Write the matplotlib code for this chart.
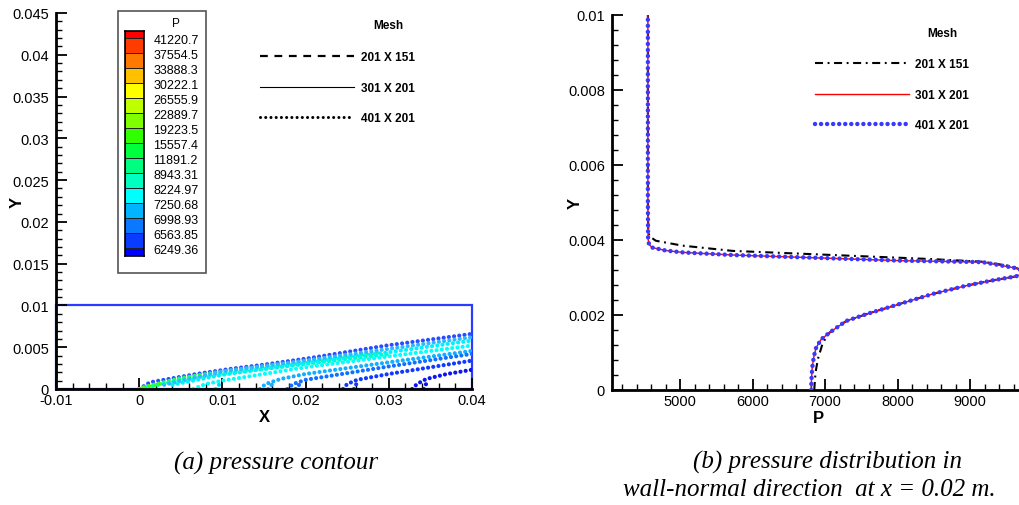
import matplotlib
matplotlib.use("Agg")
import matplotlib.pyplot as plt
from matplotlib.patches import Rectangle
from matplotlib.lines import Line2D
from matplotlib.ticker import MultipleLocator, FuncFormatter

plt.rcParams['font.family'] = ['Liberation Sans', 'DejaVu Sans']
plt.rcParams['axes.unicode_minus'] = False

# ---- (a) pressure contour data ----
domain_x = [-0.01, 0.04]
domain_y = [0.0, 0.01]

levels = [6249.36, 6563.85, 6998.93, 7250.68, 8224.97, 8943.31, 11891.2, 15557.4,
          19223.5, 22889.7, 26555.9, 30222.1, 33888.3, 37554.5, 41220.7]
level_colors = ['#0000ff', '#0a3cff', '#0a78ff', '#00b4ff', '#00ffff', '#00ffc0',
                '#00ff80', '#00ff3c', '#30ff00', '#80ff00', '#c0ff00', '#ffff00',
                '#ffc000', '#ff7800', '#ff3c00', '#ff0000']

# contour lines (x, y, colour)
contour_x = [
    [0.0, 0.0013, 0.0069, 0.0109, 0.0149, 0.0205, 0.0297, 0.04],
    [0.0005, 0.005, 0.01, 0.015, 0.02, 0.025, 0.029],
    [0.001, 0.005, 0.01, 0.015, 0.02, 0.025, 0.03],
    [0.003, 0.01, 0.02, 0.03, 0.04],
    [0.004, 0.01, 0.02, 0.03, 0.04],
    [0.0065, 0.008, 0.01, 0.02, 0.03, 0.04],
    [0.0145, 0.0152, 0.017, 0.02, 0.03, 0.04],
    [0.0178, 0.0185, 0.02, 0.025, 0.03, 0.04],
    [0.0245, 0.025, 0.0262, 0.03, 0.035, 0.04],
    [0.0328, 0.0334, 0.0345, 0.037, 0.04],
    [0.0092, 0.0095, 0.0099],
    [0.0155, 0.0158, 0.0163],
    [0.0188, 0.0191, 0.0196],
    [0.0258, 0.026, 0.0265],
    [0.0342, 0.0344, 0.0348],
    [0.0, 0.001, 0.0025],
]
contour_y = [
    [0.0, 0.0008, 0.0018, 0.0024, 0.0029, 0.0037, 0.0052, 0.0066],
    [0.0002, 0.0013, 0.0021, 0.0027, 0.0033, 0.0039, 0.0044],
    [0.0002, 0.0011, 0.0018, 0.0024, 0.0030, 0.0036, 0.0042],
    [0.0005, 0.0021, 0.0034, 0.0048, 0.0062],
    [0.0005, 0.0017, 0.0031, 0.0044, 0.0058],
    [0.0, 0.0006, 0.0010, 0.0026, 0.0039, 0.0052],
    [0.0, 0.0006, 0.0012, 0.0018, 0.0032, 0.00456],
    [0.0, 0.0006, 0.0011, 0.0019, 0.0027, 0.0042],
    [0.0, 0.0006, 0.0011, 0.0018, 0.0026, 0.0034],
    [0.0, 0.0006, 0.0012, 0.0018, 0.0023],
    [0.0, 0.0004, 0.0008],
    [0.0, 0.0004, 0.0008],
    [0.0, 0.0004, 0.0008],
    [0.0, 0.0005, 0.0009],
    [0.0, 0.0005, 0.0009],
    [0.0, 0.0003, 0.0006],
]
contour_c = ['#2a4cff', '#20ff50', '#00ffb0', '#30b8ff', '#00f0ff', '#00ffff',
             '#10b0ff', '#1070ff', '#1038ff', '#0a14f0',
             '#00e0ff', '#20a8ff', '#1070ff', '#1038ff', '#0a14f0', '#30ff20']

# ---- (b) wall-normal profiles at x = 0.02 ----
p_fine = [6807, 6812, 6822, 6845, 6876, 6945, 7060, 7290, 7580, 8021, 8480, 8941,
          9300, 9630, 9780, 9630, 9170, 8021, 6641, 5720, 5030, 4800, 4610, 4570,
          4558, 4555, 4555]
y_fine = [0, 0.0003, 0.0006, 0.0009, 0.00113, 0.00135, 0.00153, 0.00184, 0.00203,
          0.00229, 0.00256, 0.00278, 0.00292, 0.00303, 0.00314, 0.00325, 0.00341,
          0.00345, 0.00354, 0.0036, 0.00367, 0.00372, 0.0038, 0.00389, 0.00403,
          0.005, 0.01]
p_coarse = [6850, 6853, 6867, 6899, 6968, 7060, 7290, 7580, 8021, 8480, 8941, 9300,
            9630, 9780, 9540, 9170, 8480, 7100, 5720, 5030, 4665, 4575, 4560, 4555,
            4555]
y_coarse = [0, 0.0001, 0.00046, 0.00082, 0.00126, 0.00153, 0.00184, 0.00203, 0.00229,
            0.00256, 0.00278, 0.00292, 0.00303, 0.00316, 0.00331, 0.00342, 0.00349,
            0.0036, 0.00371, 0.00385, 0.00398, 0.0041, 0.0043, 0.005, 0.01]
mesh_labels = ['201 X 151', '301 X 201', '401 X 201']

W, H = 1020, 506
fig = plt.figure(figsize=(W / 100, H / 100), dpi=100)


def style_axes(ax):
    for s in ['top', 'right']:
        ax.spines[s].set_visible(False)
    for s in ['left', 'bottom']:
        ax.spines[s].set_linewidth(2)
    ax.tick_params(which='major', direction='in', length=8, width=1.3, labelsize=10.5, pad=5)
    ax.tick_params(which='minor', direction='in', length=4, width=1)
    ax.tick_params(axis='x', which='major', pad=3)
    fmt = FuncFormatter(lambda v, pos: '%g' % round(v, 6))
    ax.xaxis.set_major_formatter(fmt)
    ax.yaxis.set_major_formatter(fmt)


# ================= left panel =================
ax1 = fig.add_axes([56 / W, 1 - 390 / H, 416 / W, 376 / H])
ax1.set_xlim(-0.01, 0.04)
ax1.set_ylim(0, 0.045)
style_axes(ax1)
ax1.xaxis.set_major_locator(MultipleLocator(0.01))
ax1.xaxis.set_minor_locator(MultipleLocator(0.002))
ax1.yaxis.set_major_locator(MultipleLocator(0.005))
ax1.yaxis.set_minor_locator(MultipleLocator(0.001))

ax1.add_patch(Rectangle((domain_x[0], domain_y[0]), domain_x[1] - domain_x[0],
                        domain_y[1] - domain_y[0], fill=False, edgecolor='#2a3cff',
                        linewidth=1.6, clip_on=False, zorder=1))
for xs, ys, c in zip(contour_x, contour_y, contour_c):
    ax1.plot(xs, ys, color=c, linewidth=3.0, linestyle=(0, (0.01, 1.25)),
             dash_capstyle='round', zorder=2)

ax1.set_xlabel('X', fontsize=12, fontweight='bold', labelpad=1)
ax1.set_ylabel('Y', fontsize=12, fontweight='bold')
ax1.yaxis.set_label_coords(-31 / 416, 0.5)

h1 = [Line2D([], [], color='black', linewidth=1.6, linestyle=(0, (3.5, 3.0))),
      Line2D([], [], color='black', linewidth=0.8),
      Line2D([], [], color='black', linewidth=2.2, linestyle=(0, (0.01, 1.7)),
             dash_capstyle='round')]
fig.legend(h1, mesh_labels, loc='upper left', bbox_to_anchor=(260 / W, 1 - 52 / H),
           frameon=False, prop={'weight': 'bold', 'size': 8.5}, handlelength=8.0,
           handletextpad=0.55, labelspacing=1.58, borderpad=0, borderaxespad=0)
fig.text(388 / W, 1 - 26 / H, 'Mesh', fontsize=8.5, fontweight='bold', ha='center', va='center')

# colour legend box
fig.add_artist(Rectangle((118 / W, 1 - 274 / H), 88 / W, 262 / H, transform=fig.transFigure,
                         fill=False, edgecolor='#555555', linewidth=1.2))
fig.text(176 / W, 1 - 24 / H, 'P', fontsize=8.5, ha='center', va='center')
cax = fig.add_axes([125.3 / W, 1 - 256.8 / H, 19 / W, 225 / H])
cax.set_zorder(5)
cax.barh(range(len(level_colors)), 1, height=1, color=level_colors,
         edgecolor='#202020', linewidth=0.7)
cax.set_xlim(0, 1)
cax.set_ylim(0, len(levels))
cax.set_xticks([])
cax.yaxis.tick_right()
cax.set_yticks([i + 0.5 for i in range(len(levels))])
cax.set_yticklabels(['%g' % v for v in levels])
cax.tick_params(axis='y', length=0, pad=6.5, labelsize=9)
for s in cax.spines.values():
    s.set_linewidth(1.2)

fig.text(276 / W, 1 - 463 / H, '(a) pressure contour', fontsize=18, fontstyle='italic',
         family='Liberation Serif', ha='center', va='center')

# ================= right panel =================
ax2 = fig.add_axes([612 / W, 1 - 391 / H, (9750 - 4060) * 0.0725 / W, 375 / H])
ax2.set_xlim(4060, 9750)
ax2.set_ylim(0, 0.01)
style_axes(ax2)
ax2.xaxis.set_major_locator(MultipleLocator(1000))
ax2.xaxis.set_minor_locator(MultipleLocator(200))
ax2.yaxis.set_major_locator(MultipleLocator(0.002))
ax2.yaxis.set_minor_locator(MultipleLocator(0.0004))

l_c, = ax2.plot(p_coarse, y_coarse, color='black', linewidth=1.5,
                linestyle=(0, (3.85, 2.2, 0.9, 2.2)), zorder=2)
l_m, = ax2.plot(p_fine, y_fine, color='#ff0000', linewidth=1.0, zorder=3)
l_f, = ax2.plot(p_fine, y_fine, color='#3838ff', linewidth=3.2,
                linestyle=(0, (0.01, 1.35)), dash_capstyle='round', zorder=4)

ax2.set_xlabel('P', fontsize=12, fontweight='bold', labelpad=1)
ax2.set_ylabel('Y', fontsize=12, fontweight='bold')
ax2.yaxis.set_label_coords(-29 / 412.5, 0.5)

fig.legend([l_c, l_m, l_f], mesh_labels, loc='upper left', bbox_to_anchor=(815 / W, 1 - 59 / H),
           frameon=False, prop={'weight': 'bold', 'size': 8.5}, handlelength=8.0,
           handletextpad=0.5, labelspacing=1.58, borderpad=0, borderaxespad=0)
fig.text(942 / W, 1 - 34 / H, 'Mesh', fontsize=8.5, fontweight='bold', ha='center', va='center')

fig.text(828 / W, 1 - 462 / H, '(b) pressure distribution in', fontsize=18,
         fontstyle='italic', family='Liberation Serif', ha='center', va='center')
fig.text(623 / W, 1 - 490 / H, 'wall-normal direction  at x = 0.02 m.', fontsize=18,
         fontstyle='italic', family='Liberation Serif', ha='left', va='center')

fig.savefig('out.png', dpi=100)
